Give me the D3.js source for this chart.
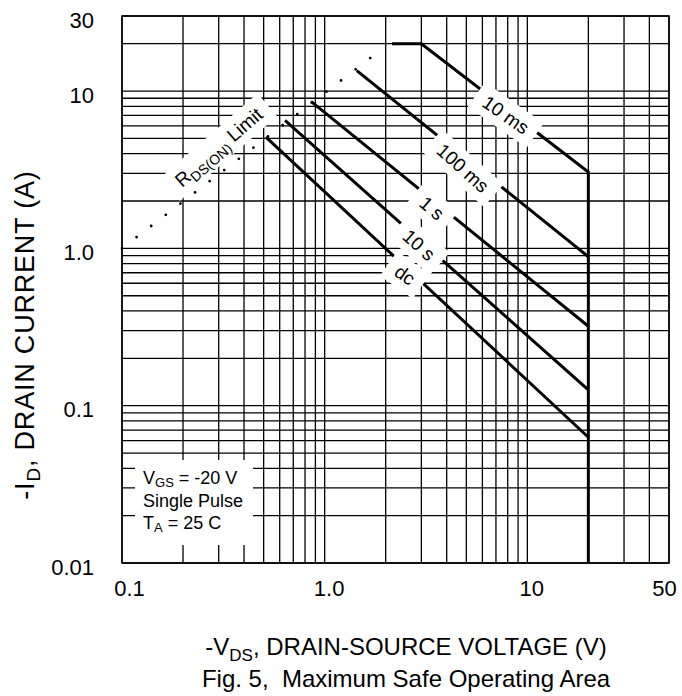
<!DOCTYPE html>
<html>
<head>
<meta charset="utf-8">
<script src="https://cdn.jsdelivr.net/npm/d3@7"></script>
<style>
  body { margin: 0; background: #fff; }
  svg text { font-family: "Liberation Sans", Arial, sans-serif; fill: #000; }
</style>
</head>
<body>
<div id="chart"></div>
<script>
// tick values and their printed labels
const xTicks = [0.1, 1, 10, 50]
const xTickLabels = ['0.1', '1.0', '10', '50']
const yTicks = [0.01, 0.1, 1, 10, 30]
const yTickLabels = ['0.01', '0.1', '1.0', '10', '30']

// [V, I] points
const rdsLimit = [[0.1, 1.0], [1.7, 16.4]]
const pulse10ms = [[2.15, 20], [3.0, 20], [20, 3.06], [20, 0.01]]
const pulse100ms = [[1.44, 13.5], [20, 0.885]]
const pulse1s = [[0.856, 8.6], [20, 0.32]]
const pulse10s = [[0.637, 6.5], [20, 0.126]]
const pulseDc = [[0.513, 5.1], [20, 0.063]]

// curve labels: text, anchor [V, I], rotation
const curveLabels = [
    { text: '10 ms', v: 7.83, i: 7.05, angle: 35 },
    { text: '100 ms', v: 4.81, i: 3.24, angle: 42 },
    { text: '1 s', v: 3.38, i: 1.80, angle: 40 },
    { text: '10 s', v: 2.92, i: 1.05, angle: 42 },
    { text: 'dc', v: 2.49, i: 0.677, angle: 35 }
]
const rdsLabel = { v: 0.3, i: 4.4, angle: -41 }

const margin = { left: 122, top: 16, right: 13, bottom: 133 }
const W = 682, H = 696
const width = W - margin.left - margin.right
const height = H - margin.top - margin.bottom

const svg = d3.select('#chart').append('svg')
    .attr('width', W)
    .attr('height', H)

const g = svg.append('g')
    .attr('transform', `translate(${margin.left}, ${margin.top})`)

const x = d3.scaleLog().domain([0.1, 50]).range([0, width])
const y = d3.scaleLog().domain([0.01, 30]).range([height, 0])

// grid
g.append('g')
    .selectAll('line')
    .data(x.ticks())
    .join('line')
    .attr('x1', d => x(d)).attr('x2', d => x(d))
    .attr('y1', 0).attr('y2', height)
    .attr('stroke', '#000').attr('stroke-width', 1.3)

g.append('g')
    .selectAll('line')
    .data(y.ticks())
    .join('line')
    .attr('x1', 0).attr('x2', width)
    .attr('y1', d => y(d)).attr('y2', d => y(d))
    .attr('stroke', '#000').attr('stroke-width', 1.3)

g.append('rect')
    .attr('width', width).attr('height', height)
    .attr('fill', 'none').attr('stroke', '#000').attr('stroke-width', 1.5)

// tick labels
const xAxis = g.append('g')
    .attr('transform', `translate(0, ${height})`)
    .call(d3.axisBottom(x).tickValues(xTicks).tickFormat((d, i) => xTickLabels[i]).tickSize(0).tickPadding(17))
xAxis.select('.domain').remove()
xAxis.selectAll('text').style('font-size', '22px')
    .attr('dx', (d, i) => i === 0 ? 7 : (i === xTicks.length - 1 ? -5 : 4))

const yAxis = g.append('g')
    .call(d3.axisLeft(y).tickValues(yTicks).tickFormat((d, i) => yTickLabels[i]).tickSize(0).tickPadding(28))
yAxis.select('.domain').remove()
yAxis.selectAll('text').style('font-size', '22px').attr('dy', '0.5em')

// curves
const line = d3.line().x(d => x(d[0])).y(d => y(d[1]))

g.append('path')
    .attr('d', line(rdsLimit))
    .attr('fill', 'none').attr('stroke', '#000')
    .attr('stroke-width', 2.8).attr('stroke-linecap', 'round')
    .attr('stroke-dasharray', '0 18.4')

;[pulse10ms, pulse100ms, pulse1s, pulse10s, pulseDc].forEach(s => {
    g.append('path')
        .attr('d', line(s))
        .attr('fill', 'none').attr('stroke', '#000')
        .attr('stroke-width', 3)
})

// conditions box
const cond = g.append('g').attr('transform', 'translate(13, 444)')
cond.append('rect').attr('width', 118).attr('height', 85).attr('fill', '#fff')
const condLine = (yy) => cond.append('text').attr('x', 8).attr('y', yy).style('font-size', '18px')
const c1 = condLine(24)
c1.append('tspan').text('V')
c1.append('tspan').attr('dy', 3).style('font-size', '13px').text('GS')
c1.append('tspan').attr('dy', -3).text(' = -20 V')
condLine(47).text('Single Pulse')
const c3 = condLine(69)
c3.append('tspan').text('T')
c3.append('tspan').attr('dy', 3).style('font-size', '13px').text('A')
c3.append('tspan').attr('dy', -3).text(' = 25 C')

// curve labels on white patches
function addLabel (v, i, angle, build) {
    const lg = g.append('g')
        .attr('transform', `translate(${x(v)}, ${y(i)}) rotate(${angle})`)
    const bg = lg.append('rect').attr('fill', '#fff')
    const t = lg.append('text')
        .attr('text-anchor', 'middle')
        .attr('dy', '0.35em')
        .style('font-size', '19px')
    build(t)
    const len = t.node().getComputedTextLength()
    bg.attr('x', -len / 2 - 10).attr('y', -15)
        .attr('width', len + 20).attr('height', 30)
}

curveLabels.forEach(d => addLabel(d.v, d.i, d.angle, t => t.text(d.text)))

addLabel(rdsLabel.v, rdsLabel.i, rdsLabel.angle, t => {
    t.append('tspan').text('R')
    t.append('tspan').attr('dy', 5).style('font-size', '14px').text('DS(ON)')
    t.append('tspan').attr('dy', -5).text(' Limit')
})

// axis titles
const xt = svg.append('text')
    .attr('x', 406).attr('y', 655)
    .attr('text-anchor', 'middle')
    .style('font-size', '24px')
xt.append('tspan').text('-V')
xt.append('tspan').attr('dy', 6).style('font-size', '17px').text('DS')
xt.append('tspan').attr('dy', -6).text(', DRAIN-SOURCE VOLTAGE (V)')

svg.append('text')
    .attr('x', 406).attr('y', 687)
    .attr('text-anchor', 'middle')
    .style('font-size', '24px')
    .style('white-space', 'pre')
    .text('Fig. 5,  Maximum Safe Operating Area')

const yt = svg.append('text')
    .attr('transform', 'translate(34, 335) rotate(-90)')
    .attr('text-anchor', 'middle')
    .style('font-size', '27px')
    .style('letter-spacing', '0.8px')
yt.append('tspan').text('-I')
yt.append('tspan').attr('dy', 6).style('font-size', '19px').text('D')
yt.append('tspan').attr('dy', -6).text(', DRAIN CURRENT (A)')
</script>
</body>
</html>
